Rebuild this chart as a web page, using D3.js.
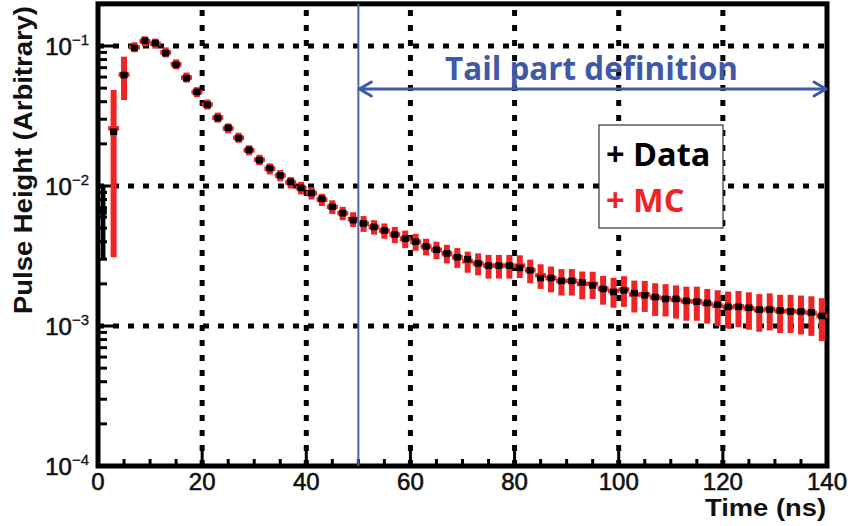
<!DOCTYPE html>
<html>
<head>
<meta charset="utf-8">
<script src="https://cdn.jsdelivr.net/npm/d3@7/dist/d3.min.js"></script>
<style>
  html, body { margin: 0; padding: 0; background: #fff; }
  svg { display: block; }
</style>
</head>
<body>
<svg id="chart" width="850" height="526"></svg>
<script>
// Bin centres (ns), 2 ns bins
const timeNs = [1, 3, 5, 7, 9, 11, 13, 15, 17, 19, 21, 23, 25, 27, 29, 31, 33, 35, 37, 39,
  41, 43, 45, 47, 49, 51, 53, 55, 57, 59, 61, 63, 65, 67, 69, 71, 73, 75, 77, 79,
  81, 83, 85, 87, 89, 91, 93, 95, 97, 99, 101, 103, 105, 107, 109, 111, 113, 115, 117, 119,
  121, 123, 125, 127, 129, 131, 133, 135, 137, 139];

// Measured pulse height (Data)
const dataValues = [0.0066, 0.0244, 0.062, 0.097, 0.109, 0.105, 0.089, 0.0735, 0.059, 0.047,
  0.038, 0.0306, 0.026, 0.022, 0.0181, 0.0153, 0.0134, 0.0119, 0.0107, 0.0097,
  0.0089, 0.0081, 0.0071, 0.0064, 0.0057, 0.0054, 0.0051, 0.0048, 0.0045, 0.0042,
  0.0040, 0.0037, 0.0035, 0.0033, 0.0031, 0.0030, 0.0028, 0.0027, 0.0027, 0.0027,
  0.0026, 0.0025, 0.0022, 0.0022, 0.0021, 0.0021, 0.00205, 0.00195, 0.00184, 0.00175,
  0.00180, 0.00172, 0.00166, 0.00161, 0.00156, 0.00156, 0.00151, 0.00149, 0.00146, 0.00142,
  0.00137, 0.00137, 0.00135, 0.00131, 0.00131, 0.00129, 0.00127, 0.00127, 0.00125, 0.00118];
const dataErrors = [0.0036, 0.0008, 0.0012, 0.0015, 0.0015, 0.0015, 0.0013, 0.0011, 0.0009, 0.0007,
  0.0006, 0.0005, 0.0004, 0.0004, 0.0003, 0.0003, 0.0002, 0.0002, 0.0002, 0.0002,
  0.00015, 0.00015, 0.00012, 0.00011, 0.0001, 0.0001, 0.0001, 0.00009, 0.00009, 0.00008,
  0.00008, 0.00007, 0.00007, 0.00007, 0.00006, 0.00006, 0.00006, 0.00006, 0.00006, 0.00006,
  0.00005, 0.00005, 0.00005, 0.00005, 0.00005, 0.00005, 0.00004, 0.00004, 0.00004, 0.00004,
  0.00004, 0.00004, 0.00004, 0.00004, 0.00004, 0.00004, 0.00003, 0.00003, 0.00003, 0.00003,
  0.00003, 0.00003, 0.00003, 0.00003, 0.00003, 0.00003, 0.00003, 0.00003, 0.00003, 0.00003];

// Simulated pulse height (MC); a zero value means no entry in that bin
const mcValues = [0, 0.0258, 0.0625, 0.098, 0.108, 0.104, 0.090, 0.0740, 0.0595, 0.0468,
  0.0382, 0.0308, 0.0258, 0.0221, 0.0180, 0.0154, 0.0133, 0.0119, 0.0106, 0.0097,
  0.0089, 0.0080, 0.0071, 0.0064, 0.0058, 0.0054, 0.0051, 0.0048, 0.0045, 0.0042,
  0.0040, 0.0037, 0.0035, 0.0033, 0.0031, 0.0029, 0.0028, 0.0027, 0.0027, 0.0027,
  0.0027, 0.0025, 0.0023, 0.0022, 0.0021, 0.0021, 0.0020, 0.0020, 0.00185, 0.00178,
  0.00182, 0.00168, 0.00168, 0.00160, 0.00158, 0.00154, 0.00150, 0.00150, 0.00144, 0.00140,
  0.00136, 0.00138, 0.00134, 0.00130, 0.00132, 0.00128, 0.00128, 0.00126, 0.00124, 0.00118];
const mcErrors = [0, 0.0227, 0.0214, 0.004, 0.004, 0.004, 0.0035, 0.003, 0.0027, 0.0024,
  0.0021, 0.0019, 0.0017, 0.0016, 0.0014, 0.0013, 0.0012, 0.0011, 0.0010, 0.0010,
  0.0009, 0.0008, 0.0008, 0.0007, 0.0007, 0.0007, 0.0006, 0.0006, 0.0006, 0.0006,
  0.00055, 0.0005, 0.0005, 0.0005, 0.0005, 0.0005, 0.0005, 0.00052, 0.00052, 0.00052,
  0.0005, 0.00048, 0.00046, 0.00046, 0.00045, 0.00045, 0.00045, 0.00044, 0.00043, 0.00043,
  0.00045, 0.00043, 0.00042, 0.00042, 0.00041, 0.00041, 0.00041, 0.00041, 0.0004, 0.0004,
  0.0004, 0.0004, 0.0004, 0.00039, 0.00039, 0.00039, 0.00039, 0.00039, 0.00039, 0.0004];

// Axis ticks and labels
const xTickLabels = [0, 20, 40, 60, 80, 100, 120, 140];
const xMinorTicks = [5, 10, 15, 25, 30, 35, 45, 50, 55, 65, 70, 75, 85, 90, 95, 105, 110, 115, 125, 130, 135];
const yDecades = [1e-4, 1e-3, 1e-2, 1e-1];
const yDecadeExponents = ["-4", "-3", "-2", "-1"];
const xGrid = [20, 40, 60, 80, 100, 120];
const yGrid = [1e-3, 1e-2, 1e-1];

// Tail window annotation
const tailRange = [50, 140];
const tailLabel = "Tail part definition";
const legendEntries = [
  { label: "+ Data", color: "#000000" },
  { label: "+ MC", color: "#ee2424" }
];

const svg = d3.select("#chart");
const plotLeft = 98, plotRight = 827, plotBottom = 466;

const x = d3.scaleLinear().domain([0, 140]).range([plotLeft, plotRight]);
const y = d3.scaleLog().domain([1e-4, 0.2])
  .range([plotBottom, plotBottom - 140 * Math.log10(0.2 / 1e-4)]);
const plotTop = y(0.2);

const points = timeNs.map((t, i) => ({
  t, d: dataValues[i], de: dataErrors[i], m: mcValues[i], me: mcErrors[i]
}));

// Dotted grid
const grid = svg.append("g").attr("stroke", "#000").attr("stroke-width", 5)
  .attr("stroke-dasharray", "6,9");
grid.selectAll("line.gx").data(xGrid).join("line").attr("class", "gx")
  .attr("x1", d => x(d)).attr("x2", d => x(d)).attr("y1", plotBottom).attr("y2", plotTop);
grid.selectAll("line.gy").data(yGrid).join("line").attr("class", "gy")
  .attr("x1", plotLeft).attr("x2", plotRight).attr("y1", d => y(d)).attr("y2", d => y(d));

// Left axis ticks (inward), major at decades, minor at 2..9
const yMinor = [];
yDecades.forEach(dec => {
  for (let k = 2; k <= 9; k++) { const v = dec * k; if (v <= 0.2) yMinor.push(v); }
});
const tickG = svg.append("g").attr("stroke", "#000").attr("stroke-width", 3);
tickG.selectAll("line.ym").data(yMinor).join("line").attr("class", "ym")
  .attr("x1", plotLeft).attr("x2", plotLeft + 9).attr("y1", d => y(d)).attr("y2", d => y(d));
tickG.selectAll("line.yM").data(yDecades).join("line").attr("class", "yM")
  .attr("x1", plotLeft).attr("x2", plotLeft + 16).attr("y1", d => y(d)).attr("y2", d => y(d));
tickG.selectAll("line.xm").data(xMinorTicks).join("line").attr("class", "xm")
  .attr("x1", d => x(d)).attr("x2", d => x(d)).attr("y1", plotBottom).attr("y2", plotBottom - 7);
tickG.selectAll("line.xM").data(xTickLabels).join("line").attr("class", "xM")
  .attr("x1", d => x(d)).attr("x2", d => x(d)).attr("y1", plotBottom).attr("y2", plotBottom - 15);

// Frame
svg.append("rect").attr("x", plotLeft).attr("y", plotTop)
  .attr("width", plotRight - plotLeft).attr("height", plotBottom - plotTop)
  .attr("fill", "none").attr("stroke", "#000").attr("stroke-width", 5);

// MC: red crosses with vertical error bars
const red = "#ee2424";
const mcPts = points.filter(p => p.m > 0);
const mcG = svg.append("g").attr("stroke", red);
mcG.selectAll("line.mv").data(mcPts).join("line").attr("class", "mv")
  .attr("stroke-width", 6)
  .attr("x1", p => x(p.t)).attr("x2", p => x(p.t))
  .attr("y1", p => Math.min(y(p.m + p.me), y(p.m) - 5))
  .attr("y2", p => Math.max(y(Math.max(p.m - p.me, 1.1e-4)), y(p.m) + 5));
mcG.selectAll("line.mh").data(mcPts).join("line").attr("class", "mh")
  .attr("stroke-width", 4.5)
  .attr("x1", p => x(p.t) - 5.5).attr("x2", p => x(p.t) + 5.5)
  .attr("y1", p => y(p.m)).attr("y2", p => y(p.m));

// Data: black squares with vertical error bars
const dG = svg.append("g");
dG.selectAll("line").data(points).join("line")
  .attr("stroke", "#000").attr("stroke-width", 4.5)
  .attr("x1", p => x(p.t)).attr("x2", p => x(p.t))
  .attr("y1", p => y(p.d + p.de)).attr("y2", p => y(p.d - p.de));
dG.selectAll("rect").data(points).join("rect")
  .attr("fill", "#000")
  .attr("x", p => x(p.t) - 3.6).attr("y", p => y(p.d) - 3.3)
  .attr("width", 7.2).attr("height", 6.6);

// Tick labels
const tickFont = "'Liberation Sans', Arial, Helvetica, sans-serif";
svg.append("g").selectAll("text").data(xTickLabels).join("text")
  .attr("x", d => x(d)).attr("y", 490)
  .attr("text-anchor", "middle").attr("font-family", tickFont).attr("font-size", 24)
  .attr("fill", "#111").attr("stroke", "#111").attr("stroke-width", 0.6).text(d => d);

const yl = svg.append("g").selectAll("text").data(yDecades).join("text")
  .attr("x", 89).attr("y", d => y(d) + 8.5)
  .attr("text-anchor", "end").attr("font-family", tickFont).attr("font-size", 24)
  .attr("fill", "#111").attr("stroke", "#111").attr("stroke-width", 0.6);
yl.append("tspan").text("10");
yl.append("tspan").attr("dy", -10).attr("font-size", 15).attr("stroke-width", 0.3)
  .text((d, i) => yDecadeExponents[i].replace("-", "\u2212"));

// Axis titles
svg.append("text").attr("x", 826).attr("y", 516).attr("text-anchor", "end")
  .attr("font-family", tickFont).attr("font-weight", "bold").attr("font-size", 24)
  .attr("textLength", 121).attr("lengthAdjust", "spacingAndGlyphs")
  .attr("fill", "#111").text("Time (ns)");
svg.append("text").attr("transform", "translate(32,160) rotate(-90)").attr("text-anchor", "middle")
  .attr("font-family", tickFont).attr("font-weight", "bold").attr("font-size", 26)
  .attr("textLength", 308).attr("lengthAdjust", "spacingAndGlyphs")
  .attr("fill", "#111").text("Pulse Height (Arbitrary)");

// Tail window: vertical marker, double arrow and label
const blue = "#3f59a7";
svg.append("line").attr("x1", x(tailRange[0])).attr("x2", x(tailRange[0]))
  .attr("y1", plotTop).attr("y2", plotBottom).attr("stroke", "#4a63ad").attr("stroke-width", 2);
const ay = 89;
const ax1 = x(tailRange[0]) + 1, ax2 = x(tailRange[1]) - 1;
const arrow = svg.append("g").attr("stroke", blue).attr("stroke-width", 3)
  .attr("fill", "none").attr("stroke-linecap", "round").attr("stroke-linejoin", "round");
arrow.append("line").attr("x1", ax1).attr("x2", ax2).attr("y1", ay).attr("y2", ay);
arrow.append("path").attr("d", `M${ax1 + 12},${ay - 7} L${ax1},${ay} L${ax1 + 12},${ay + 7}`);
arrow.append("path").attr("d", `M${ax2 - 12},${ay - 7} L${ax2},${ay} L${ax2 - 12},${ay + 7}`);
svg.append("text").attr("x", 445).attr("y", 80)
  .attr("font-family", "'Open Sans', sans-serif").attr("font-weight", "bold").attr("font-size", 32)
  .attr("textLength", 293).attr("lengthAdjust", "spacingAndGlyphs")
  .attr("fill", blue).text(tailLabel);

// Legend box
svg.append("rect").attr("x", 599).attr("y", 125).attr("width", 124).attr("height", 103)
  .attr("fill", "#fff").attr("stroke", "#333").attr("stroke-width", 1.2);
svg.append("g").selectAll("text").data(legendEntries).join("text")
  .attr("x", 606).attr("y", (d, i) => 166 + i * 46)
  .attr("font-family", "'Open Sans', sans-serif").attr("font-weight", "bold").attr("font-size", 32.5)
  .attr("fill", d => d.color).text(d => d.label);
</script>
</body>
</html>
